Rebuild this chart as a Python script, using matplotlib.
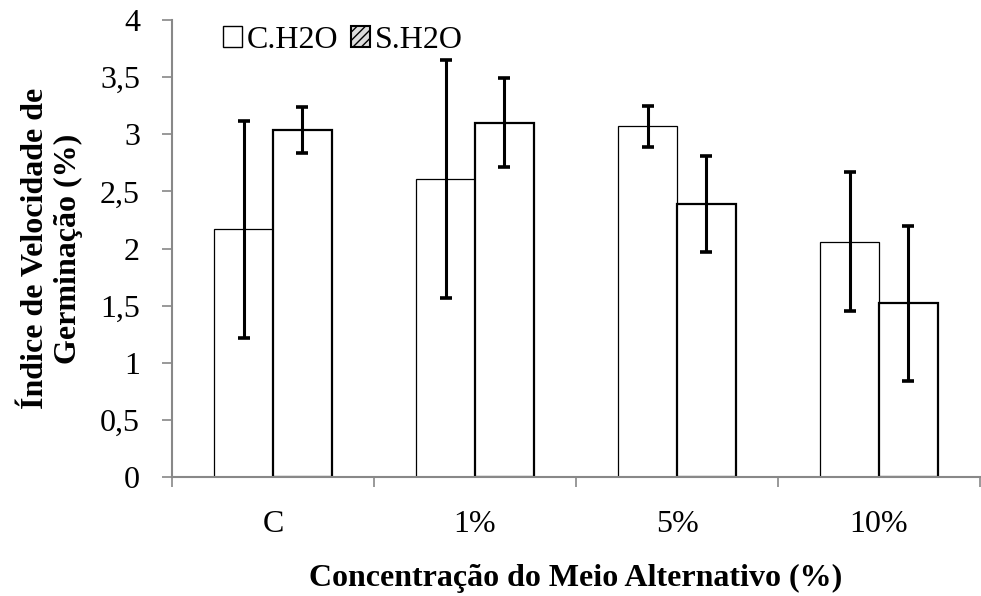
import numpy as np
import matplotlib.pyplot as plt
from matplotlib.patches import Patch

categories = ["C", "1%", "5%", "10%"]
c_h2o = [2.17, 2.61, 3.07, 2.06]
c_h2o_err = [0.95, 1.04, 0.18, 0.61]
s_h2o = [3.04, 3.10, 2.39, 1.52]
s_h2o_err = [0.20, 0.39, 0.42, 0.68]

plt.rcParams["font.family"] = ["Liberation Serif", "DejaVu Serif"]

fig = plt.figure(figsize=(9.81, 5.96), dpi=100)
ax = fig.add_axes([172 / 981, 1 - 477 / 596, 808 / 981, 457 / 596])

x = np.arange(len(categories))
w = 0.292
ax.bar(x - w / 2, c_h2o, w, color="white", edgecolor="black", linewidth=0.9, zorder=2)
ax.bar(x + w / 2, s_h2o, w, color="white", edgecolor="black", linewidth=1.6, zorder=2)
ax.errorbar(x - w / 2, c_h2o, yerr=c_h2o_err, fmt="none", ecolor="black",
            elinewidth=2.2, capsize=4.5, capthick=2.6, zorder=3)
ax.errorbar(x + w / 2, s_h2o, yerr=s_h2o_err, fmt="none", ecolor="black",
            elinewidth=2.2, capsize=4.5, capthick=2.6, zorder=3)

ax.set_xlim(-0.5, len(categories) - 0.5)
ax.set_ylim(0, 4)
ax.set_yticks(np.arange(0, 4.01, 0.5))
ax.set_yticklabels(["0", "0,5", "1", "1,5", "2", "2,5", "3", "3,5", "4"])
ax.set_xticks(x)
ax.set_xticklabels(categories)
ax.set_xticks(np.arange(-0.5, len(categories), 1), minor=True)
ax.tick_params(axis="x", which="major", length=0, pad=24, labelsize=23)
ax.tick_params(axis="x", which="minor", length=7, color="#888888", width=1.2)
ax.tick_params(axis="y", length=7, color="#888888", width=1.2, labelsize=23, pad=16)

for s in ["top", "right"]:
    ax.spines[s].set_visible(False)
for s in ["left", "bottom"]:
    ax.spines[s].set_color("#888888")
    ax.spines[s].set_linewidth(1.5)

ax.set_xlabel("Concentração do Meio Alternativo (%)", fontsize=23, fontweight="bold", labelpad=18)
ax.set_ylabel("Índice de Velocidade de\nGerminação (%)", fontsize=23, fontweight="bold", labelpad=12)

handles = [Patch(facecolor="white", edgecolor="black", linewidth=1.0, label="C.H2O"),
           Patch(facecolor="#dddddd", edgecolor="black", hatch="////", linewidth=1.5, label="S.H2O")]
ax.legend(handles=handles, loc="upper left", bbox_to_anchor=(0.027, 1.05), ncol=2, frameon=False,
          fontsize=23, handlelength=0.6, handleheight=0.6, handletextpad=0.15, columnspacing=0.4)

fig.savefig("out.png", dpi=100)
